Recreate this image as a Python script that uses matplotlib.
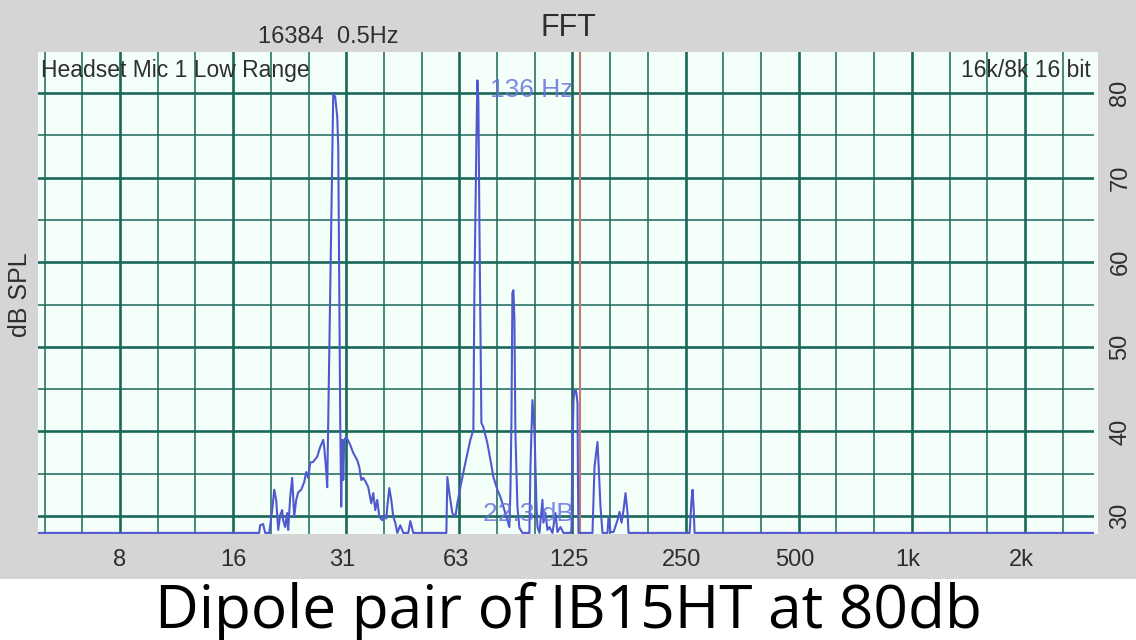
import matplotlib
matplotlib.use("Agg")
import matplotlib.pyplot as plt
from matplotlib.patches import Rectangle

# spectrum trace (Hz, dB SPL)
freq_hz = [4.84, 18.77, 18.88, 19.23, 19.47, 19.96, 20.33, 20.58, 20.83, 21.09,
           21.35, 21.61, 21.74, 22.01, 22.28, 22.42, 22.70, 22.98, 23.26, 23.55,
           23.84, 24.28, 24.73, 25.04, 25.35, 25.66, 26.14, 26.78, 27.28, 27.79,
           27.96, 28.30, 28.48, 28.66, 29.01, 29.37, 29.55, 29.91, 30.28, 30.47,
           30.66, 30.84, 31.03, 31.22, 31.42, 31.61, 32.0, 32.79, 33.41, 34.23,
           34.66, 35.09, 35.52, 36.18, 36.62, 37.30, 37.76, 38.23, 38.70, 39.18,
           39.91, 40.40, 40.90, 41.15, 41.66, 42.17, 42.69, 43.22, 43.75, 44.56,
           45.39, 46.81, 47.39, 48.26,
           59.10, 59.46, 60.19, 61.31, 62.45, 63.22, 64.39, 66.40, 68.47, 69.74,
           70.17, 71.03, 71.47, 71.91, 72.35, 73.25, 74.15, 75.99, 77.88, 78.84,
           80.80, 82.30, 83.83, 85.91, 86.97, 87.51, 88.05, 88.59, 89.13, 89.68,
           90.23, 91.35, 92.47, 94.19,
           98.32, 98.93, 100.15, 101.39, 102.64, 103.27, 104.55, 106.48, 107.14, 108.47,
           109.80, 111.16, 113.22, 115.33, 116.75, 118.91, 121.13, 126.44, 127.22, 128.0,
           128.79, 129.58, 130.38, 131.18, 131.99, 132.40, 132.80, 144.70, 146.50, 149.21,
           150.13, 151.98, 153.86, 158.66, 159.63, 161.60, 164.6, 168.69, 170.78, 172.89,
           175.02, 177.18, 179.37, 180.47,
           262.4, 264.0, 265.6, 267.2, 268.9, 270.5, 3127]
level_db = [28.0, 28.0, 28.9, 29.05, 28.0, 28.0, 30.7, 33.1, 31.9, 28.35,
            30.1, 30.7, 29.5, 28.7, 30.35, 28.35, 32.25, 34.5, 29.9, 31.9,
            32.8, 33.1, 34.0, 35.2, 34.5, 36.3, 36.4, 37.0, 38.15, 39.0,
            38.15, 35.4, 33.4, 41.35, 56.4, 72.1, 80.0, 79.5, 77.2, 73.6,
            56.4, 41.35, 31.1, 39.0, 34.25, 39.0, 39.35, 38.4, 37.45, 36.6,
            35.8, 34.25, 34.5, 33.9, 33.4, 31.5, 32.7, 30.7, 31.9, 29.9,
            29.5, 30.1, 29.7, 31.1, 33.3, 31.9, 29.9, 29.2, 28.0, 28.9,
            28.0, 28.0, 29.4, 28.0,
            28.0, 34.6, 32.7, 30.35, 29.9, 31.5, 33.4, 36.3, 39.0, 40.2,
            56.4, 74.1, 81.5, 79.2, 65.0, 41.0, 40.5, 38.6, 36.0, 34.6,
            33.1, 32.25, 31.1, 29.5, 28.7, 33.0, 41.0, 56.4, 56.7, 53.2,
            39.8, 31.1, 28.6, 28.0,
            28.0, 35.8, 43.7, 40.2, 31.5, 28.7, 28.0, 31.9, 29.2, 30.35,
            28.35, 28.7, 28.0, 30.35, 28.1, 28.7, 28.0, 28.0, 28.4, 38.15,
            43.7, 44.6, 44.9, 44.5, 43.35, 34.0, 28.0, 28.0, 35.8, 38.75,
            36.3, 31.1, 28.0, 28.0, 29.9, 28.1, 28.1, 29.5, 30.5, 29.2,
            30.7, 32.7, 30.35, 28.0,
            28.0, 30.0, 32.0, 33.1, 31.0, 28.0, 28.0]

tick_hz = [8, 16, 31.25, 62.5, 125, 250, 500, 1000, 2000]
tick_labels = ['8', '16', '31', '63', '125', '250', '500', '1k', '2k']
db_ticks = [30, 40, 50, 60, 70, 80]
cursor_hz = 134
cursor_text = '136 Hz'
floor_text = '22.3 dB'

W, H = 1136, 640
grid_col = '#1a675a'
trace_col = '#5058d0'
txt_col = '#2e2e2e'
font = ['Liberation Sans', 'DejaVu Sans']

fig = plt.figure(figsize=(W / 100, H / 100), dpi=100, facecolor='#d5d5d5')
fig.patches.append(Rectangle((0, 0), 1, 61 / H, transform=fig.transFigure,
                             fc='white', ec='none', zorder=-2))
fig.patches.append(Rectangle((38 / W, 106 / H), 1060 / W, 482 / H,
                             transform=fig.transFigure, fc='#f4fff9', ec='none', zorder=-2))

ax = fig.add_axes([38 / W, 106 / H, 1056 / W, 482 / H])
ax.set_zorder(1)
ax.set_facecolor('#f4fff9')
ax.set_xscale('log', base=2)
ax.set_xlim(4.84, 3127)
ax.set_ylim(27.87, 84.85)
for s in ax.spines.values():
    s.set_visible(False)

# third-octave grid, octaves heavier
for k in range(-2, 26):
    ax.axvline(8 * 2 ** (k / 3), color=grid_col, lw=1.9 if k % 3 == 0 else 1.1, zorder=1)
for v in range(30, 85, 5):
    ax.axhline(v, color=grid_col, lw=1.9 if v % 10 == 0 else 1.1, zorder=1)

ax.axvline(cursor_hz, color='#c87575', lw=1.5, zorder=2)
ax.plot(freq_hz, level_db, color=trace_col, lw=1.5, zorder=3)

ax.set_xticks(tick_hz)
ax.set_xticklabels(tick_labels)
ax.xaxis.set_minor_locator(matplotlib.ticker.NullLocator())
ax.tick_params(axis='x', length=0, pad=11, labelsize=17, labelcolor=txt_col)
ax.yaxis.tick_right()
ax.set_yticks(db_ticks)
ax.set_yticklabels([str(v) for v in db_ticks], rotation=90, va='center')
ax.tick_params(axis='y', length=0, pad=11, labelsize=17, labelcolor=txt_col)
for lab in ax.get_xticklabels() + ax.get_yticklabels():
    lab.set_family(font)

# cursor readouts sit just left of the red line
ax.annotate(cursor_text, xy=(cursor_hz, 80.3), xytext=(-6, 0), textcoords='offset pixels',
            ha='right', va='center', fontsize=19, color='#6674e0', alpha=0.85,
            family=font, zorder=4)
ax.annotate(floor_text, xy=(cursor_hz, 30.2), xytext=(-6, 0), textcoords='offset pixels',
            ha='right', va='center', fontsize=19, color='#6674e0', alpha=0.85,
            family=font, zorder=4)

ax.text(0.003, 0.985, 'Headset Mic 1 Low Range', transform=ax.transAxes, ha='left',
        va='top', fontsize=16.5, color=txt_col, family=font, zorder=5)
ax.text(0.997, 0.985, '16k/8k 16 bit', transform=ax.transAxes, ha='right',
        va='top', fontsize=16.5, color=txt_col, family=font, zorder=5)

fig.text(568 / W, 1 - 28 / H, 'FFT', ha='center', va='center', fontsize=22,
         color=txt_col, family=font)
fig.text(258 / W, 1 - 37 / H, '16384  0.5Hz', ha='left', va='center', fontsize=17,
         color=txt_col, family=font)
fig.text(20 / W, 1 - 295 / H, 'dB SPL', ha='center', va='center', rotation=90,
         fontsize=18, color=txt_col, family=font)
fig.text(568 / W, 12 / H, 'Dipole pair of IB15HT at 80db', ha='center', va='baseline',
         fontsize=43.5, color='black', family=['Open Sans', 'DejaVu Sans'])

fig.savefig('out.png', dpi=100, facecolor=fig.get_facecolor())
